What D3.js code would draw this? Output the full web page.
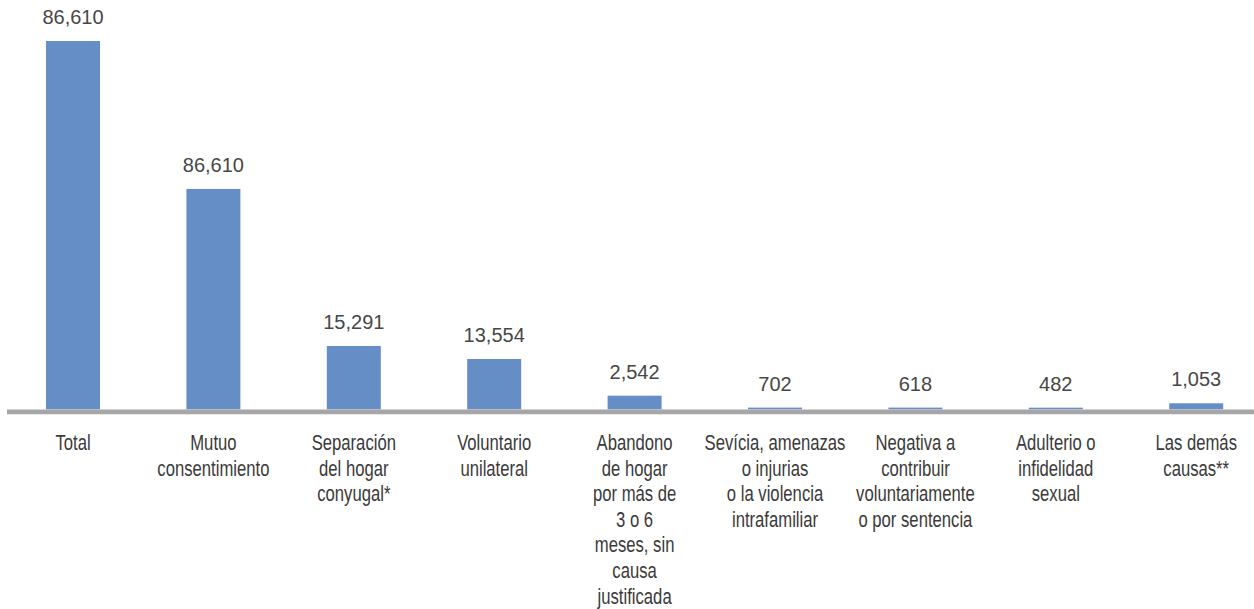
<!DOCTYPE html>
<html>
<head>
<meta charset="utf-8">
<script src="https://cdn.jsdelivr.net/npm/d3@7"></script>
<style>
  html, body { margin: 0; padding: 0; background: #fff; }
  svg { display: block; }
  text { font-family: "Liberation Sans", Arial, Helvetica, sans-serif; }
</style>
</head>
<body>
<div id="container"></div>
<script>
const categories = [
    ["Total"],
    ["Mutuo", "consentimiento"],
    ["Separación", "del hogar", "conyugal*"],
    ["Voluntario", "unilateral"],
    ["Abandono", "de hogar", "por más de", "3 o 6", "meses, sin", "causa", "justificada"],
    ["Sevícia, amenazas", "o injurias", "o la violencia", "intrafamiliar"],
    ["Negativa a", "contribuir", "voluntariamente", "o por sentencia"],
    ["Adulterio o", "infidelidad", "sexual"],
    ["Las demás", "causas**"]
]
// bar heights as drawn (Total = 86,610)
const barValues = [86610, 51810, 14890, 11830, 3200, 400, 400, 380, 1410]
// value labels as printed above each bar
const valueLabels = ["86,610", "86,610", "15,291", "13,554", "2,542", "702", "618", "482", "1,053"]

const w = 1254
const h = 609
const baseY = 409.3

const svg = d3.select("#container")
    .append("svg")
    .attr("width", w)
    .attr("height", h)

const xScale = d3.scaleBand()
    .domain(d3.range(categories.length))
    .range([2.8, 1266.4])
    .paddingInner(0.6154)
    .paddingOuter(0.3077)

const yScale = d3.scaleLinear()
    .domain([0, d3.max(barValues)])
    .range([baseY, 41])

// bars
svg.selectAll("rect.bar")
    .data(barValues)
    .enter()
    .append("rect")
    .attr("class", "bar")
    .attr("x", (d, i) => xScale(i))
    .attr("y", d => yScale(d))
    .attr("width", xScale.bandwidth())
    .attr("height", d => baseY - yScale(d))
    .attr("fill", "#658dc6")

// baseline
svg.append("line")
    .attr("x1", 7)
    .attr("x2", w)
    .attr("y1", baseY + 2.5)
    .attr("y2", baseY + 2.5)
    .attr("stroke", "#a6a6a8")
    .attr("stroke-width", 4.8)

// value labels
svg.selectAll("text.value")
    .data(barValues)
    .enter()
    .append("text")
    .attr("class", "value")
    .attr("x", (d, i) => xScale(i) + xScale.bandwidth() / 2)
    .attr("y", d => yScale(d) - 17)
    .attr("text-anchor", "middle")
    .attr("font-size", 20)
    .attr("fill", "#474747")
    .text((d, i) => valueLabels[i])

// category labels (condensed look: squeeze horizontally)
const cat = svg.selectAll("g.cat")
    .data(categories)
    .enter()
    .append("g")
    .attr("class", "cat")
    .attr("transform", (d, i) => `translate(${xScale(i) + xScale.bandwidth() / 2},0) scale(0.725,1)`)
    .append("text")
    .attr("text-anchor", "middle")
    .attr("font-size", 23)
    .attr("fill", "#3a3a3a")

cat.selectAll("tspan")
    .data(d => d)
    .enter()
    .append("tspan")
    .attr("x", 0)
    .attr("y", (d, j) => 450 + j * 25.6)
    .text(d => d)
</script>
</body>
</html>
